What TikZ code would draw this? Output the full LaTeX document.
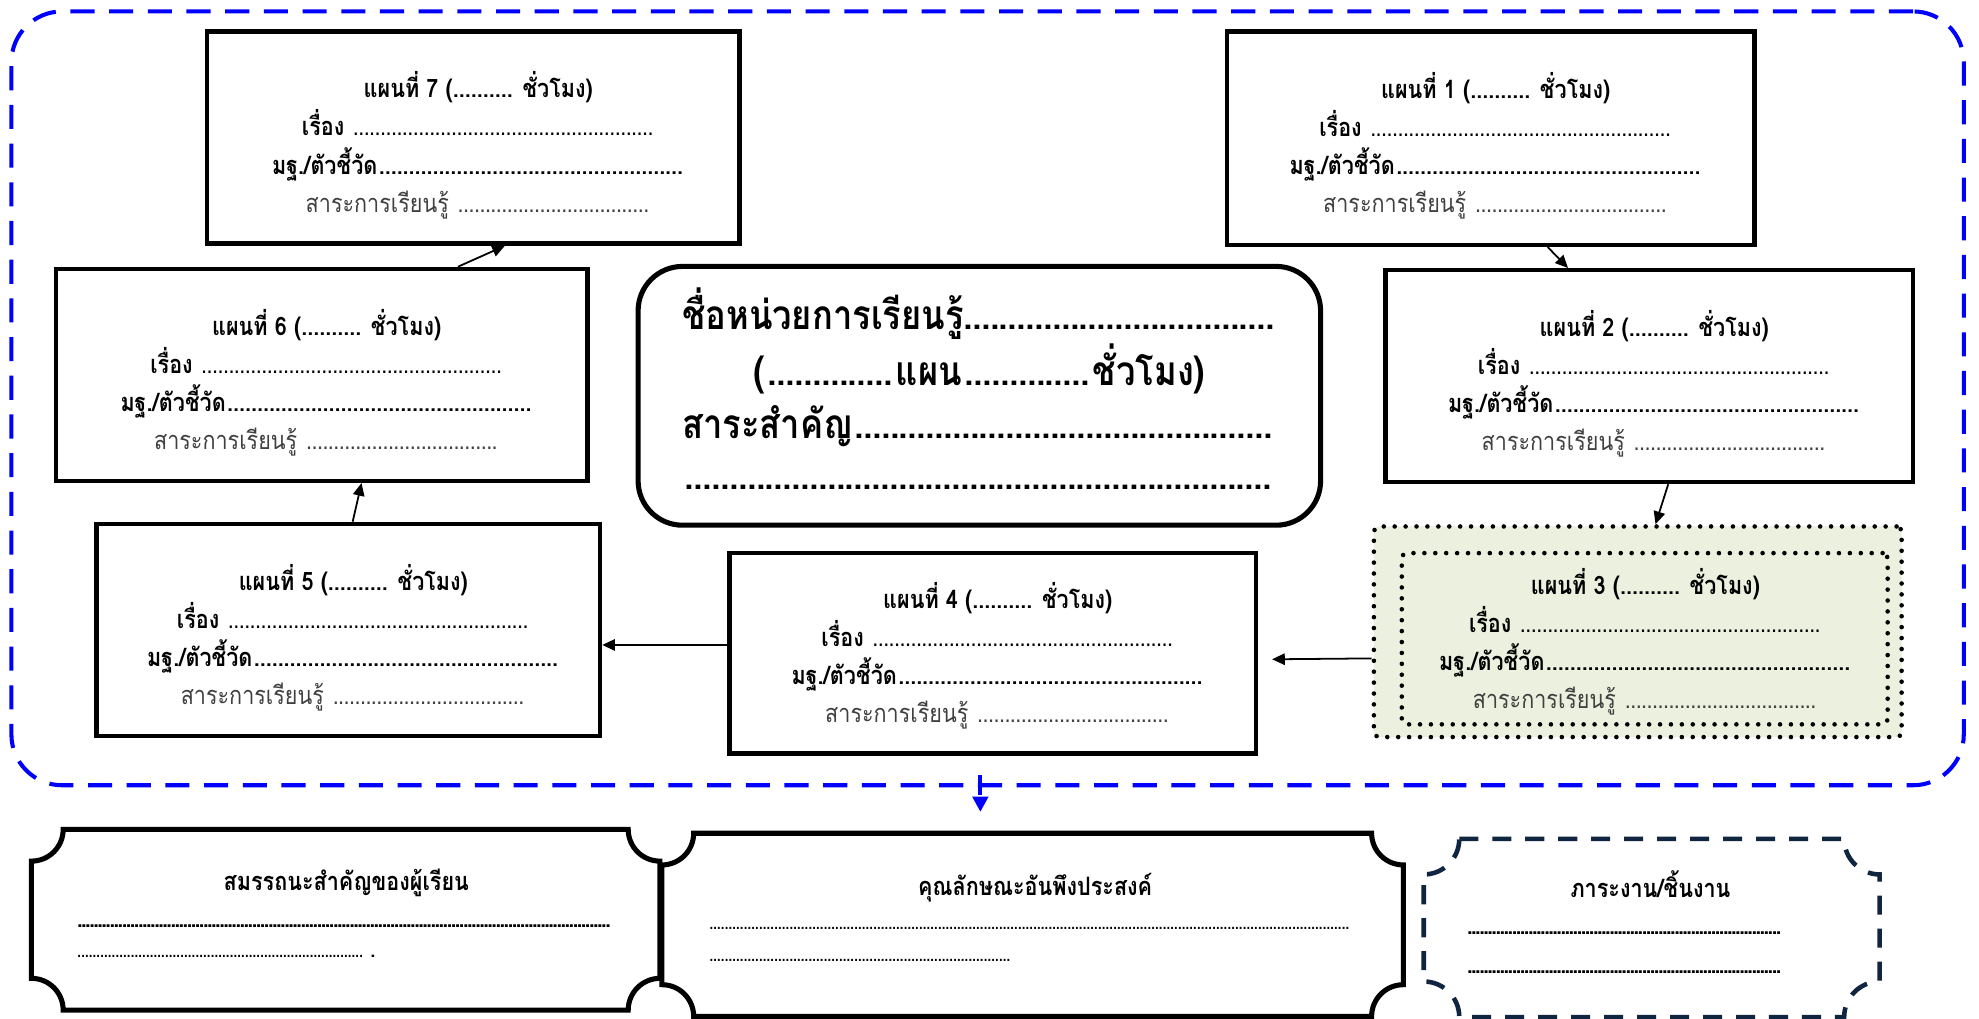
\documentclass[tikz,border=0pt]{standalone}
\usepackage{fontspec}
\setmainfont{Loma}[Script=Thai,FakeStretch=0.85]
\usetikzlibrary{arrows.meta}
\definecolor{olb}{HTML}{EBF1DE}
\definecolor{navy}{HTML}{10253F}
\definecolor{sgray}{HTML}{404040}
\definecolor{wblue}{HTML}{0000FF}
\newcommand\dlf[1]{\cleaders\hbox to #1{\hss.\hss}\hfill}
\newcommand\pl[1]{\lineskiplimit=-100pt\lineskip=0pt
  {\bfseries แผนที่ #1 (.......... ชั่วโมง)}\\
  \hbox to 278pt{\bfseries เรื่อง\ \mdseries\dlf{4.3pt}}\\
  \hbox to 325pt{\bfseries มฐ./ตัวชี้วัด\dlf{4.7pt}}\\
  \hbox to 272pt{\color{sgray}สาระการเรียนรู้\ \dlf{4.3pt}}}
\newcommand\ticket[3]{%
  \draw[#3] ([xshift=#2pt]#1.north west) -- ([xshift=-#2pt]#1.north east)
    arc[start angle=180,end angle=90,radius=#2] -- ([yshift=#2pt]#1.south east)
    arc[start angle=270,end angle=180,radius=#2] -- ([xshift=#2pt]#1.south west)
    arc[start angle=0,end angle=-90,radius=#2] -- ([yshift=-#2pt]#1.north west)
    arc[start angle=90,end angle=0,radius=#2] -- cycle;}
\begin{document}
\begin{tikzpicture}[x=1pt,y=-1pt,
  plan/.style={draw, line width=3.5pt, fill=white, inner sep=0pt},
  ptxt/.style={align=center, inner sep=0pt, font=\fontsize{20}{30}\selectfont},
  dotbox/.style={draw=black, line width=3.6pt, dash pattern=on 0pt off 8.6pt, line cap=round, rounded corners=4pt, inner sep=0pt},
  arr/.style={line width=1.4pt, -{Triangle[length=10pt,width=9pt]}},
  utxt/.style={inner sep=0pt, font=\fontsize{32}{36}\selectfont\bfseries},
  btitle/.style={inner sep=0pt, font=\fontsize{20}{24}\selectfont\bfseries},
  bdots/.style={inner sep=0pt, anchor=base west, font=\fontsize{17}{20}\selectfont},
  bbdots/.style={inner sep=0pt, anchor=base west, font=\fontsize{20}{20}\selectfont\bfseries},
  tk/.style={line width=4pt, line join=miter},
  ]
\useasboundingbox (0,0) rectangle (1560,802.5);
\clip (0,0) rectangle (1560,802.5);
\fill[white] (0,0) rectangle (1560,802.5);

\node[draw=wblue, line width=3.2pt, dash pattern=on 19pt off 11.5pt, rounded corners=40pt,
      minimum width=1539pt, minimum height=610pt, inner sep=0pt] (outer) at (778.5,314) {};

% plan boxes
\node[plan, minimum width=420pt, minimum height=167pt] (p7) at (373,108.5) {};
\node[plan, minimum width=416pt, minimum height=168pt] (p1) at (1175,109) {};
\node[plan, minimum width=419pt, minimum height=167pt] (p6) at (253.5,295.5) {};
\node[plan, minimum width=416pt, minimum height=167pt] (p2) at (1300,296.5) {};
\node[plan, minimum width=397pt, minimum height=167pt] (p5) at (274.5,496.5) {};
\node[plan, minimum width=415pt, minimum height=158pt] (p4) at (782.5,515) {};
\node[dotbox, fill=olb, minimum width=416pt, minimum height=166pt] (p3) at (1291,498) {};
\node[dotbox, minimum width=383pt, minimum height=135pt] (p3in) at (1296.5,503.5) {};

\node[ptxt] (t7) at ([xshift=4pt,yshift=-6pt]p7.center) {\pl{7}};
\node[ptxt] (t1) at ([xshift=4pt,yshift=-6pt]p1.center) {\pl{1}};
\node[ptxt] (t6) at ([xshift=4pt,yshift=-6pt]p6.center) {\pl{6}};
\node[ptxt] (t2) at ([xshift=4pt,yshift=-6pt]p2.center) {\pl{2}};
\node[ptxt] (t5) at ([xshift=4pt,yshift=-6pt]p5.center) {\pl{5}};
\node[ptxt] (t4) at ([xshift=4pt,yshift=-2pt]p4.center) {\pl{4}};
\node[ptxt] (t3) at ([xshift=6pt,yshift=-8pt]p3.center) {\pl{3}};

% unit box
\node[draw, line width=4pt, rounded corners=35pt, minimum width=538pt, minimum height=204pt,
      fill=white, inner sep=0pt] (unit) at (772,312) {};
\node[utxt, anchor=base west] (u1) at (537.5,260) {\hbox to 467pt{ชื่อหน่วยการเรียนรู้\dlf{7pt}}};
\node[utxt, anchor=base] (u2) at (772,303.5) {\hbox to 356pt{(\dlf{7pt}แผน\dlf{7pt}ชั่วโมง)}};
\node[utxt, anchor=base west] (u3) at (537.5,345.5) {\hbox to 467pt{สาระสำคัญ\dlf{7pt}}};
\node[utxt, anchor=base west] (u4) at (537.5,386) {\hbox to 467pt{\dlf{7pt}}};

% connectors
\draw[arr] ([xshift=107.5pt]p6.north) -- ([xshift=25pt]p7.south);
\draw[arr] ([xshift=45pt]p1.south) -- ([xshift=-64pt]p2.north);
\draw[arr] ([xshift=15pt]p2.south) -- ([xshift=14pt]p3.north);
\draw[arr] ([yshift=-21pt]p3.west) -- ([xshift=11pt,yshift=-4.7pt]p4.east);
\draw[arr] ([yshift=6.6pt]p4.west) -- ([yshift=-11.9pt]p5.east);
\draw[arr] ([xshift=3.5pt]p5.north) -- ([xshift=31.5pt]p6.south);

\coordinate (down) at (772.8,640);
\draw[wblue, line width=3pt, dash pattern=on 16pt off 20pt, -{Triangle[length=12pt,width=12pt]}]
  ([xshift=-5.7pt,yshift=10pt]outer.south) -- (down);

% bottom boxes
\node[minimum width=495pt, minimum height=142pt, inner sep=0pt] (comp) at (272.5,725) {};
\node[minimum width=584pt, minimum height=144pt, inner sep=0pt] (attr) at (814,729) {};
\node[minimum width=359pt, minimum height=140pt, inner sep=0pt] (work) at (1302,731.5) {};
\ticket{comp}{25}{tk}
\ticket{attr}{25}{tk}
\ticket{work}{28}{line width=3.6pt, draw=navy, dash pattern=on 15pt off 11pt}

\node[btitle] (ct) at (273,696) {สมรรถนะสำคัญของผู้เรียน};
\node[bbdots] (cd1) at (59.7,731) {\hbox to 422pt{\dlf{3.2pt}}};
\node[bdots] (cd2) at (59.7,755) {\hbox to 236pt{\dlf{3pt}\ \bfseries.}};
\node[btitle] (kt) at (816,700) {คุณลักษณะอันพึงประสงค์};
\node[bdots] (kd1) at (558,733) {\hbox to 506pt{\dlf{3pt}}};
\node[bdots] (kd2) at (558,758) {\hbox to 239pt{\dlf{3pt}}};
\node[btitle] (wt) at (1301,697) {ภาระงาน/ชิ้นงาน};
\node[bbdots] (wd1) at (1156,737) {\hbox to 248pt{\dlf{3.2pt}}};
\node[bbdots] (wd2) at (1156,767) {\hbox to 248pt{\dlf{3.2pt}}};
\end{tikzpicture}
\end{document}
